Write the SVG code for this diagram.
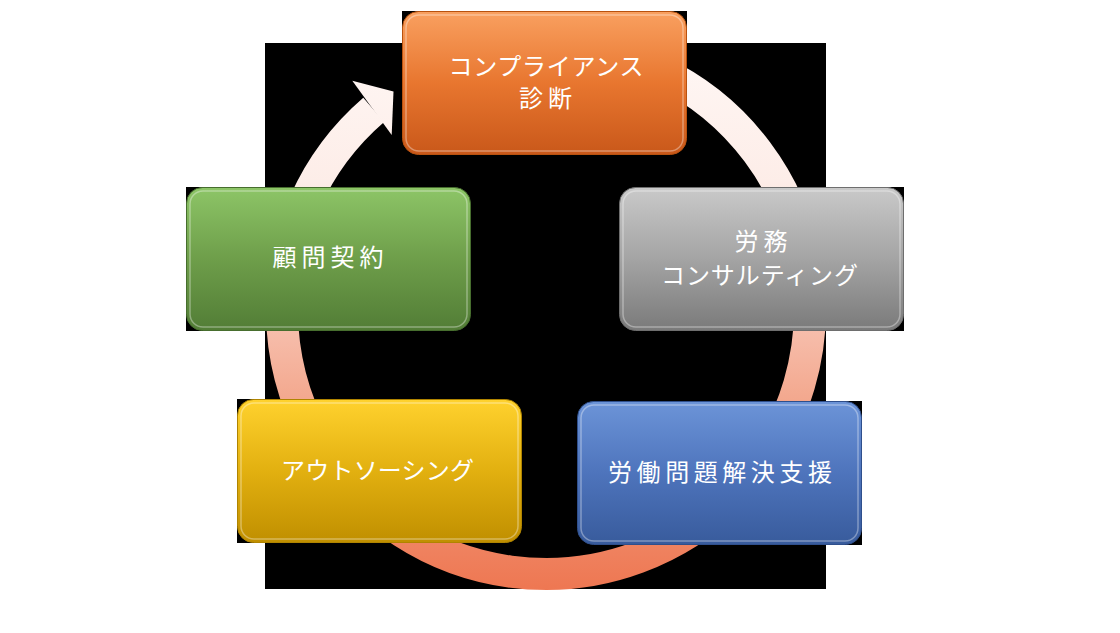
<svg xmlns="http://www.w3.org/2000/svg" width="1120" height="633" viewBox="0 0 1120 633">
  <style>
    .bg { fill: #000000; }
    .box { stroke-width: 1; }
    .bevel { fill: none; stroke: #ffffff; stroke-opacity: 0.35; stroke-width: 1.5; }
    .label { font-family: "Noto Sans CJK JP", "Noto Sans", sans-serif; font-size: 24px; fill: #ffffff; text-anchor: middle; }
  </style>
  <defs>
    <linearGradient id="ringGrad" gradientUnits="userSpaceOnUse" x1="0" y1="30" x2="0" y2="590">
      <stop offset="0" stop-color="#FFF8F6"/>
      <stop offset="0.27" stop-color="#FDEDE8"/>
      <stop offset="0.55" stop-color="#F6BBA8"/>
      <stop offset="0.66" stop-color="#F3A88E"/>
      <stop offset="1" stop-color="#EE7752"/>
    </linearGradient>
    <linearGradient id="gOrange" x1="0" y1="0" x2="0" y2="1">
      <stop offset="0" stop-color="#F9A060"/>
      <stop offset="0.5" stop-color="#E8762F"/>
      <stop offset="1" stop-color="#C9581A"/>
    </linearGradient>
    <linearGradient id="gGray" x1="0" y1="0" x2="0" y2="1">
      <stop offset="0" stop-color="#C9C9C9"/>
      <stop offset="0.5" stop-color="#A4A4A4"/>
      <stop offset="1" stop-color="#7A7A7A"/>
    </linearGradient>
    <linearGradient id="gGreen" x1="0" y1="0" x2="0" y2="1">
      <stop offset="0" stop-color="#8DC567"/>
      <stop offset="0.5" stop-color="#6E9E4A"/>
      <stop offset="1" stop-color="#527D36"/>
    </linearGradient>
    <linearGradient id="gBlue" x1="0" y1="0" x2="0" y2="1">
      <stop offset="0" stop-color="#6C94D8"/>
      <stop offset="0.5" stop-color="#4E74BC"/>
      <stop offset="1" stop-color="#385B9C"/>
    </linearGradient>
    <linearGradient id="gYellow" x1="0" y1="0" x2="0" y2="1">
      <stop offset="0" stop-color="#FFD22E"/>
      <stop offset="0.5" stop-color="#E2B010"/>
      <stop offset="1" stop-color="#C08F00"/>
    </linearGradient>
  </defs>

  <g id="background">
    <rect class="bg" x="265" y="43" width="561" height="546"/>
  </g>

  <g id="connectors">
    <path d="M546,46 A264,264 0 1 1 373.7,109.9" fill="none" stroke="url(#ringGrad)" stroke-width="32"/>
    <polygon points="352.3,80.7 393.5,91.5 391.7,135" fill="url(#ringGrad)"/>
  </g>

  <g id="node-compliance">
    <rect class="bg" x="402" y="11" width="285" height="144"/>
    <rect class="box" x="402.5" y="11.5" width="284" height="143" rx="16" fill="url(#gOrange)" stroke="#B8520F"/>
    <rect class="bevel" x="406" y="15" width="277" height="136" rx="13"/>
    <text class="label" x="546" y="75" textLength="195" lengthAdjust="spacing">コンプライアンス</text>
    <text class="label" x="545.5" y="107.4" textLength="53" lengthAdjust="spacing">診断</text>
  </g>

  <g id="node-roumu">
    <rect class="bg" x="619" y="187" width="285" height="144"/>
    <rect class="box" x="619.5" y="187.5" width="284" height="143" rx="16" fill="url(#gGray)" stroke="#6E6E6E"/>
    <rect class="bevel" x="623" y="191" width="277" height="136" rx="13"/>
    <text class="label" x="761" y="250" textLength="53" lengthAdjust="spacing">労務</text>
    <text class="label" x="759.5" y="284" textLength="197" lengthAdjust="spacing">コンサルティング</text>
  </g>

  <g id="node-roudou">
    <rect class="bg" x="577" y="401" width="285" height="144"/>
    <rect class="box" x="577.5" y="401.5" width="284" height="143" rx="16" fill="url(#gBlue)" stroke="#2F4F8C"/>
    <rect class="bevel" x="581" y="405" width="277" height="136" rx="13"/>
    <text class="label" x="720" y="481" textLength="224" lengthAdjust="spacing">労働問題解決支援</text>
  </g>

  <g id="node-outsourcing">
    <rect class="bg" x="237" y="399" width="285" height="144"/>
    <rect class="box" x="237.5" y="399.5" width="284" height="143" rx="16" fill="url(#gYellow)" stroke="#B08400"/>
    <rect class="bevel" x="241" y="403" width="277" height="136" rx="13"/>
    <text class="label" x="377.5" y="479" textLength="193" lengthAdjust="spacing">アウトソーシング</text>
  </g>

  <g id="node-komon">
    <rect class="bg" x="186" y="187" width="285" height="144"/>
    <rect class="box" x="186.5" y="187.5" width="284" height="143" rx="16" fill="url(#gGreen)" stroke="#476E2E"/>
    <rect class="bevel" x="190" y="191" width="277" height="136" rx="13"/>
    <text class="label" x="328" y="266.4" textLength="111" lengthAdjust="spacing">顧問契約</text>
  </g>
</svg>
